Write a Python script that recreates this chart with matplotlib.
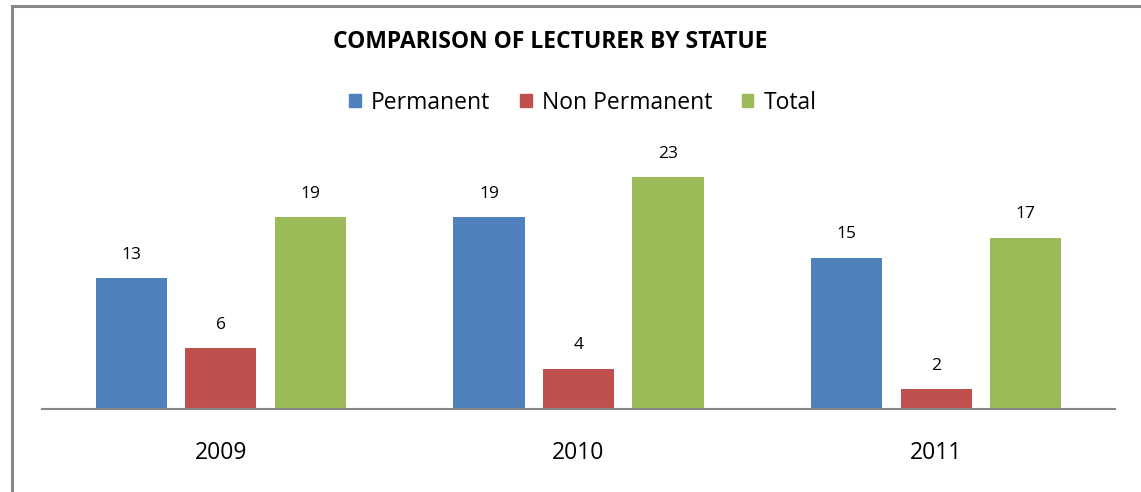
import matplotlib.pyplot as plt
import matplotlib.patches as mpatches
import numpy as np

years = ["2009", "2010", "2011"]
series = ["Permanent", "Non Permanent", "Total"]
permanent = [13, 19, 15]
non_permanent = [6, 4, 2]
total = [19, 23, 17]

colors = ["#4F81BD", "#C0504D", "#9BBB59"]
font = "Open Sans"

fig = plt.figure(figsize=(11.41, 4.92), dpi=100)
ax = fig.add_axes([42 / 1141, 1 - 409 / 492, (1115 - 42) / 1141, (409 - 156.8) / 492])

x = np.arange(len(years))
width = 0.199
offsets = [-0.25, 0.0, 0.25]
for vals, off, col, name in zip([permanent, non_permanent, total], offsets, colors, series):
    bars = ax.bar(x + off, vals, width, color=col, label=name)
    for b, v in zip(bars, vals):
        ax.annotate(str(v), (b.get_x() + b.get_width() / 2, v), xytext=(0, 11),
                    textcoords="offset points", ha="center", va="bottom",
                    fontsize=12.5, family=font)

ax.set_xlim(-0.5, 2.5)
ax.set_ylim(0, 25)
ax.set_xticks(x)
ax.set_xticklabels(years, family=font, fontsize=16.5)
ax.tick_params(axis="x", length=0, pad=23)
ax.set_yticks([])
for s in ["top", "right", "left"]:
    ax.spines[s].set_visible(False)
ax.spines["bottom"].set_color("#868686")
ax.spines["bottom"].set_linewidth(1.5)

# title and legend
fig.text(550 / 1141, 1 - 42 / 492, "COMPARISON OF LECTURER BY STATUE", ha="center", va="center",
         fontsize=16.5, fontweight="bold", family=font)
handles = [mpatches.Patch(color=c, label=n) for c, n in zip(colors, series)]
fig.legend(handles=handles, loc="center", bbox_to_anchor=(583 / 1141, 1 - 103 / 492), ncol=3,
           frameon=False, prop={"family": font, "size": 16.5}, handlelength=0.5, handleheight=0.5,
           handletextpad=0.45, columnspacing=1.3)

# chart border
border = mpatches.Rectangle((12 / 1141, -0.1), 1.2, 1.1 - 6 / 492, transform=fig.transFigure,
                            fill=False, edgecolor="#888888", linewidth=2.2, clip_on=False)
fig.patches.append(border)

fig.savefig("out.png", dpi=100)
